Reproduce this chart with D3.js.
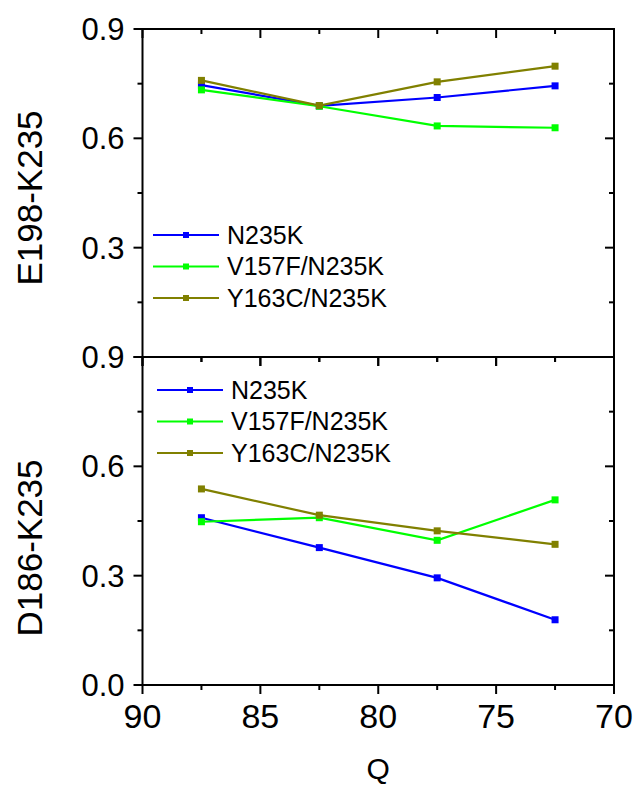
<!DOCTYPE html>
<html>
<head>
<meta charset="utf-8">
<script src="https://cdn.jsdelivr.net/npm/d3@7"></script>
<style>
  body { margin: 0; background: #fff; }
  text { font-family: "Liberation Sans", Arial, sans-serif; fill: #000; }
</style>
</head>
<body>
<div id="chart"></div>
<script>
// Q values shared by both panels
var qValues = [87.5, 82.5, 77.5, 72.5];
var seriesNames = ["N235K", "V157F/N235K", "Y163C/N235K"];
var seriesColors = ["#0000ff", "#00ff00", "#808000"];

// top panel: E198-K235
var e198_N235K = [0.746, 0.689, 0.712, 0.744];
var e198_V157F = [0.733, 0.688, 0.634, 0.629];
var e198_Y163C = [0.759, 0.690, 0.755, 0.798];

// bottom panel: D186-K235
var d186_N235K = [0.459, 0.377, 0.294, 0.179];
var d186_V157F = [0.448, 0.459, 0.397, 0.508];
var d186_Y163C = [0.538, 0.466, 0.423, 0.386];

var xTicks = [90, 85, 80, 75, 70];
var yTicks = [0.0, 0.3, 0.6, 0.9];

var W = 638, H = 786;
var left = 142.5, right = 614;
var svg = d3.select("#chart").append("svg")
    .attr("width", W).attr("height", H);

var x = d3.scaleLinear().domain([90, 70]).range([left, right]);

var panels = [
    { title: "E198-K235", top: 29, bottom: 357, data: [e198_N235K, e198_V157F, e198_Y163C],
      titleY: 198, legendX: 153, legendY: 235, showZero: false },
    { title: "D186-K235", top: 357, bottom: 685, data: [d186_N235K, d186_V157F, d186_Y163C],
      titleY: 548, legendX: 157, legendY: 390, showZero: true }
];

var minorX = d3.range(90, 69, -2.5);
var minorY = d3.range(0, 0.91, 0.15);

panels.forEach(function(p) {
    var y = d3.scaleLinear().domain([0, 0.9]).range([p.bottom, p.top]);
    var g = svg.append("g");

    // frame
    g.append("rect")
        .attr("x", left).attr("y", p.top)
        .attr("width", right - left).attr("height", p.bottom - p.top)
        .attr("fill", "none").attr("stroke", "#000").attr("stroke-width", 2);

    // left ticks (outward), right ticks (inward)
    minorY.forEach(function(v) {
        var major = Math.abs(v / 0.3 - Math.round(v / 0.3)) < 1e-6;
        g.append("line")
            .attr("x1", left).attr("x2", left - (major ? 9 : 5))
            .attr("y1", y(v)).attr("y2", y(v))
            .attr("stroke", "#000").attr("stroke-width", 2);
        g.append("line")
            .attr("x1", right).attr("x2", right - (major ? 9 : 5))
            .attr("y1", y(v)).attr("y2", y(v))
            .attr("stroke", "#000").attr("stroke-width", 2);
    });

    // y tick labels
    yTicks.forEach(function(v) {
        if (v === 0 && !p.showZero) return;
        g.append("text")
            .attr("x", left - 18).attr("y", y(v))
            .attr("dy", "0.35em")
            .attr("text-anchor", "end")
            .style("font-size", "31px")
            .text(d3.format(".1f")(v));
    });

    // top ticks (inward) and bottom ticks (outward)
    minorX.forEach(function(v) {
        var major = v % 5 === 0;
        g.append("line")
            .attr("x1", x(v)).attr("x2", x(v))
            .attr("y1", p.top).attr("y2", p.top + (major ? 9 : 5))
            .attr("stroke", "#000").attr("stroke-width", 2);
        g.append("line")
            .attr("x1", x(v)).attr("x2", x(v))
            .attr("y1", p.bottom).attr("y2", p.bottom + (major ? 9 : 5))
            .attr("stroke", "#000").attr("stroke-width", 2);
    });

    // y title
    g.append("text")
        .attr("transform", "translate(42," + p.titleY + ") rotate(-90)")
        .attr("text-anchor", "middle")
        .style("font-size", "35px")
        .text(p.title);

    // series lines + markers
    var line = d3.line()
        .x(function(d, i) { return x(qValues[i]); })
        .y(function(d) { return y(d); });

    p.data.forEach(function(vals, s) {
        g.append("path")
            .attr("d", line(vals))
            .attr("fill", "none")
            .attr("stroke", seriesColors[s])
            .attr("stroke-width", 2.2);
        g.selectAll(null).data(vals).enter().append("rect")
            .attr("x", function(d, i) { return x(qValues[i]) - 3.5; })
            .attr("y", function(d) { return y(d) - 3.5; })
            .attr("width", 7).attr("height", 7)
            .attr("fill", seriesColors[s]);
    });

    // legend
    seriesNames.forEach(function(name, s) {
        var ly = p.legendY + s * 31.5;
        g.append("line")
            .attr("x1", p.legendX).attr("x2", p.legendX + 66)
            .attr("y1", ly).attr("y2", ly)
            .attr("stroke", seriesColors[s]).attr("stroke-width", 2.2);
        g.append("rect")
            .attr("x", p.legendX + 33 - 3).attr("y", ly - 3)
            .attr("width", 6).attr("height", 6)
            .attr("fill", seriesColors[s]);
        g.append("text")
            .attr("x", p.legendX + 74).attr("y", ly)
            .attr("dy", "0.35em")
            .style("font-size", "25px")
            .text(name);
    });
});

// x tick labels
xTicks.forEach(function(v) {
    svg.append("text")
        .attr("x", x(v)).attr("y", 728)
        .attr("text-anchor", "middle")
        .style("font-size", "34px")
        .text(v);
});

// x title
svg.append("text")
    .attr("x", (left + right) / 2).attr("y", 779)
    .attr("text-anchor", "middle")
    .style("font-size", "30px")
    .text("Q");
</script>
</body>
</html>
